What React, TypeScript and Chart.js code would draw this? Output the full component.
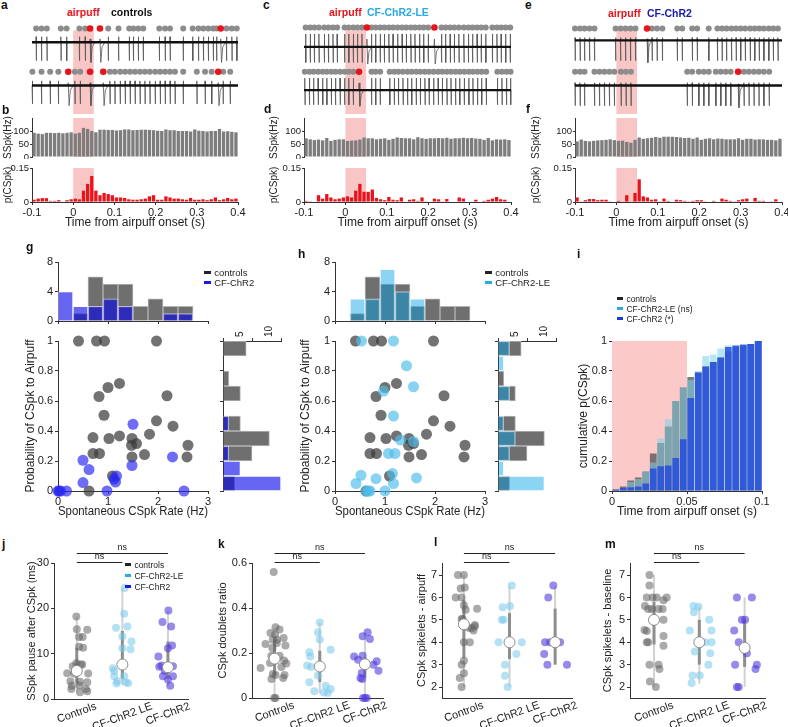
import React, { useEffect, useRef } from 'react';
import { Chart, registerables } from 'chart.js';

Chart.register(...registerables);
const FONT = '"Liberation Sans", Arial, Helvetica, sans-serif';
Chart.defaults.font.family = FONT;
Chart.defaults.font.size = 11;
Chart.defaults.color = '#222';

// ---------------- DATA ----------------
// top row: time histograms (bins of 0.01 s from -0.1 s)
const BIN0 = -0.1;
const BINW = 0.01;
const timeTicks = [-0.1, 0, 0.1, 0.2, 0.3, 0.4];
const ssTicks = [0, 50, 100];
const csTicks = [0, 0.15];

const ssControls = [93, 90, 88, 93, 93, 92, 93, 91, 93, 95, 90, 93, 112, 108, 100, 95, 105, 105, 104, 104, 102, 103, 106, 106, 103, 104, 105, 105, 104, 103, 101, 100, 106, 103, 103, 100, 100, 100, 98, 106, 101, 100, 98, 100, 100, 108, 98, 99, 97, 95];
const ssLE = [72, 68, 65, 67, 64, 73, 62, 66, 68, 68, 62, 63, 64, 67, 75, 72, 72, 68, 70, 72, 66, 70, 75, 73, 72, 72, 68, 76, 72, 70, 72, 72, 73, 72, 74, 70, 72, 72, 74, 72, 73, 71, 70, 66, 73, 64, 68, 67, 68, 65];
const ssChR2 = [60, 67, 62, 60, 62, 64, 65, 66, 68, 65, 62, 63, 58, 55, 66, 75, 70, 72, 74, 77, 74, 78, 78, 78, 77, 75, 73, 74, 70, 75, 66, 70, 72, 68, 71, 70, 68, 68, 68, 72, 66, 70, 70, 67, 68, 68, 66, 66, 64, 70];

const csControls = [0.01, 0.015, 0.017, 0.017, 0.005, 0.005, 0.008, 0.002, 0.008, 0.012, 0.015, 0.012, 0.05, 0.08, 0.115, 0.05, 0.03, 0.04, 0.035, 0.03, 0.02, 0.02, 0.018, 0.012, 0.01, 0.01, 0.012, 0.015, 0.025, 0.03, 0.01, 0.01, 0.025, 0.02, 0.015, 0.015, 0.012, 0.01, 0.018, 0.01, 0.01, 0.012, 0.008, 0.012, 0.02, 0.008, 0.012, 0.018, 0.012, 0.015];
const csLE = [0.005, 0.003, 0, 0.03, 0.015, 0.035, 0.02, 0.012, 0.015, 0.02, 0.025, 0.02, 0.05, 0.08, 0.045, 0.045, 0.055, 0.018, 0.012, 0.008, 0.022, 0.01, 0.008, 0.02, 0.002, 0.01, 0.012, 0.005, 0.02, 0.003, 0, 0.015, 0.012, 0.003, 0.013, 0.002, 0, 0.02, 0.015, 0, 0, 0.01, 0, 0.005, 0.01, 0.015, 0.022, 0.012, 0.01, 0];
const csChR2 = [0.02, 0.003, 0.008, 0.013, 0.013, 0.008, 0.01, 0.01, 0.003, 0, 0.005, 0, 0.03, 0, 0.04, 0.1, 0.025, 0.02, 0.01, 0.012, 0.003, 0.015, 0.005, 0, 0.01, 0.008, 0.005, 0.003, 0.005, 0.008, 0.008, 0.003, 0, 0.005, 0, 0.015, 0.01, 0.005, 0.003, 0.008, 0.012, 0.015, 0, 0.018, 0.005, 0.005, 0, 0.003, 0.012, 0];

// example traces: simple-spike (ss) and complex-spike (cs) times (s)
const trA1ss = [-0.09, -0.077, -0.064, -0.03, -0.016, 0.015, 0.029, 0.085, 0.11, 0.136, 0.146, 0.158, 0.17, 0.209, 0.223, 0.235, 0.267, 0.29, 0.304, 0.316, 0.328, 0.34, 0.348, 0.372, 0.385, 0.397];
const trA1cs = [0.041, 0.065, 0.358];
const trA2ss = [-0.099, -0.077, -0.056, -0.036, 0.004, 0.017, 0.089, 0.101, 0.114, 0.126, 0.138, 0.15, 0.162, 0.174, 0.186, 0.199, 0.211, 0.223, 0.235, 0.247, 0.267, 0.3, 0.32, 0.336, 0.364, 0.381];
const trA2cs = [-0.012, 0.041, 0.073, 0.352];
const trC1ss = [-0.096, -0.085, -0.075, -0.064, -0.051, -0.041, -0.03, -0.02, -0.002, 0.008, 0.019, 0.029, 0.04, 0.063, 0.073, 0.084, 0.094, 0.105, 0.115, 0.126, 0.137, 0.147, 0.158, 0.168, 0.179, 0.189, 0.2, 0.232, 0.242, 0.253, 0.263, 0.274, 0.286, 0.297, 0.307, 0.318, 0.328, 0.339, 0.355, 0.366, 0.376, 0.387, 0.398];
const trC1cs = [0.052, 0.215];
const trC2ss = [-0.098, -0.087, -0.077, -0.066, -0.055, -0.045, -0.034, -0.024, -0.013, -0.002, 0.008, 0.019, 0.063, 0.073, 0.084, 0.107, 0.118, 0.128, 0.139, 0.15, 0.16, 0.171, 0.181, 0.192, 0.202, 0.213, 0.224, 0.234, 0.245, 0.255, 0.266, 0.276, 0.287, 0.298, 0.308, 0.319, 0.329, 0.34, 0.367, 0.378, 0.389, 0.399];
const trC2cs = [0.033];
const trE1ss = [-0.1, -0.088, -0.077, -0.065, -0.053, -0.002, 0.01, 0.022, 0.034, 0.046, 0.086, 0.098, 0.111, 0.147, 0.159, 0.183, 0.195, 0.223, 0.244, 0.255, 0.266, 0.278, 0.289, 0.3, 0.311, 0.323, 0.334, 0.345, 0.356, 0.368, 0.379, 0.39];
const trE1cs = [0.074];
const trE2ss = [-0.1, -0.088, -0.077, -0.053, -0.041, -0.029, -0.017, -0.005, 0.011, 0.023, 0.035, 0.171, 0.183, 0.199, 0.211, 0.223, 0.24, 0.252, 0.264, 0.276, 0.308, 0.32, 0.332, 0.344, 0.356, 0.369];
const trE2cs = [0.294];

// middle row
const rateBins = [0.15, 0.45, 0.75, 1.05, 1.35, 1.65, 1.95, 2.25, 2.55];
const histRateCtrl = [0, 1, 6, 5, 5, 2, 3, 2, 2];
const histRateChR2 = [4, 2, 2, 3, 2, 0, 0, 1, 1];
const histRateLE = [0, 3, 3, 7, 4, 3, 0, 0, 0];
const probBins = [0.05, 0.15, 0.25, 0.35, 0.45, 0.55, 0.65, 0.75, 0.85, 0.95];
const histProbCtrl = [2, 0, 5, 8, 3, 0, 3, 1, 0, 4];
const histProbChR2 = [10, 3, 1, 0, 1, 0, 0, 0, 0, 0];
const histProbLE = [8, 1, 2, 3, 1, 0, 2, 0, 1, 2];
const rateTicks = [0, 1, 2, 3];
const probTicks = [0, 0.2, 0.4, 0.6, 0.8, 1];
const countTicks = [0, 4, 8];
const sideTicks = [0, 5, 10];

const ctrlRate = [0.41, 0.77, 0.93, 1.97, 1.23, 1.0, 0.82, 2.18, 0.92, 1.97, 2.3, 1.83, 0.7, 1.02, 1.23, 1.48, 1.57, 1.47, 2.6, 0.7, 0.83, 1.73, 1.48, 2.58, 1.09, 0.62];
const ctrlProb = [1, 1, 1, 1, 0.717, 0.69, 0.63, 0.635, 0.505, 0.468, 0.432, 0.379, 0.356, 0.35, 0.367, 0.35, 0.316, 0.305, 0.305, 0.25, 0.25, 0.243, 0.227, 0.227, 0.1, 0];
const chr2Rate = [0, 0.02, 0.05, 0.17, 0.98, 2.52, 0.5, 1.15, 1.17, 0.62, 0.5, 1.48, 2.29, 1.5, 1.12];
const chr2Prob = [0, 0, 0, 0, 0, 0, 0.056, 0.06, 0.1, 0.143, 0.205, 0.17, 0.227, 0.445, 0.08];
const leRate = [0.53, 1.17, 1.43, 1.57, 0.97, 1.17, 1.31, 1.57, 1.07, 1.2, 0.52, 1.15, 0.42, 0.82, 1.17, 1.63, 0.67, 1.0, 0.62, 0.7];
const leProb = [1, 1, 0.835, 0.695, 0.666, 0.5, 0.34, 0.33, 0.25, 0.25, 0.105, 0.116, 0.05, 0.082, 0.05, 0.087, 0, 0, 0, 0];

// panel i: cumulative p(CSpk), 5 ms bins
const CUMW = 0.005;
const cumTicksX = [0, 0.05, 0.1];
const cumCtrl = [0.01, 0.03, 0.07, 0.09, 0.13, 0.25, 0.32, 0.43, 0.6, 0.69, 0.76, 0.79, 0.83, 0.86, 0.89, 0.93, 0.96, 0.97, 0.98, 1.0];
const cumLE = [0.01, 0.02, 0.06, 0.08, 0.13, 0.19, 0.35, 0.48, 0.6, 0.69, 0.74, 0.8, 0.9, 0.91, 0.95, 0.97, 0.97, 0.98, 0.98, 1.0];
const cumChR2 = [0.01, 0.02, 0.025, 0.03, 0.05, 0.15, 0.165, 0.17, 0.22, 0.345, 0.62, 0.79, 0.83, 0.86, 0.89, 0.96, 0.97, 0.975, 0.98, 1.0];

// bottom row strip plots (jitter offsets in category units, values)
const groupLabels = ['Controls', 'CF-ChR2 LE', 'CF-ChR2'];
const nsPairs = [[0, 2], [0, 1]];

const jCtrlJit = [-0.01, 0, 0.23, 0.05, 0.13, 0.05, 0.14, -0.09, -0.01, 0.09, 0.12, -0.21, -0.06, 0.25, -0.14, 0.07, 0.23, -0.11, 0.06, -0.12, 0.07, 0.23, 0.2];
const jCtrlVal = [18.2, 15.4, 15.3, 13.7, 13.7, 11.5, 11.3, 7.2, 7.9, 7.6, 7.6, 5.7, 5.6, 5.6, 3.9, 3.8, 3.7, 2.9, 3.0, 2.2, 1.5, 1.7, 2.2];
const jLEJit = [0.05, 0.04, -0.14, 0.11, 0, 0.2, 0, 0.18, -0.21, -0.18, 0.04, -0.11, -0.13, 0.07, 0.13, -0.18];
const jLEVal = [24.5, 18.8, 15.7, 16, 13.8, 12.7, 11.2, 11, 6.8, 5, 5, 3.9, 3.4, 3.7, 3.5, 6.2];
const jChJit = [0.01, -0.12, 0.07, 0.09, 0, -0.21, -0.14, 0.11, -0.11, 0.11, 0, 0.05, -0.19, -0.07];
const jChVal = [19.5, 17, 16, 11.8, 11.2, 9.4, 7.4, 7.2, 5, 5, 4.3, 2.9, 7.1, 6.2];
const jMin = [1.5, 3.2, 2.9], jQ1 = [3.5, 4.5, 4.5], jMed = [6.2, 7.6, 7.0], jQ3 = [11.3, 15, 12.7], jMax = [18.2, 24.5, 19.5];
const jTicks = [0, 10, 20, 30];

const kCtrlJit = [-0.02, 0.02, 0.11, -0.09, 0.01, 0.2, -0.04, 0.05, -0.2, 0.05, -0.05, 0.24, -0.07, 0.11, 0.21, 0.02, 0.26, -0.31, 0.15, -0.1, -0.04, 0.22, 0.02, 0.19, -0.07, -0.01, 0.02];
const kCtrlVal = [0.56, 0.315, 0.304, 0.289, 0.281, 0.267, 0.259, 0.259, 0.24, 0.244, 0.222, 0.233, 0.188, 0.188, 0.167, 0.167, 0.153, 0.133, 0.138, 0.156, 0.107, 0.102, 0.102, 0.089, 0.084, 0, 0];
const kLEJit = [0, -0.04, 0, -0.23, 0.24, -0.21, -0.28, -0.19, -0.04, -0.23, 0.13, 0.24, 0.09, 0.18, -0.12];
const kLEVal = [0.336, 0.292, 0.26, 0.203, 0.215, 0.185, 0.144, 0.138, 0.1, 0.07, 0.055, 0.04, 0.025, 0.022, 0.03];
const kChJit = [0.06, -0.05, 0.11, -0.24, -0.05, -0.15, 0.26, 0.19, 0.3, -0.07, -0.1, -0.06, -0.04, 0.04, 0];
const kChVal = [0.292, 0.274, 0.262, 0.185, 0.188, 0.17, 0.163, 0.148, 0.121, 0.111, 0.089, 0.084, 0, 0, 0];
const kMin = [0, 0.02, 0], kQ1 = [0.1, 0.07, 0.09], kMed = [0.175, 0.14, 0.15], kQ3 = [0.26, 0.21, 0.18], kMax = [0.31, 0.336, 0.29];
const kTicks = [0, 0.2, 0.4, 0.6];

const lCtrlJit = [-0.13, 0, 0.02, -0.07, -0.18, -0.05, 0, 0.04, 0.29, -0.05, -0.03, 0.24, 0.24, 0.1, 0.17, 0.21, 0, 0.13, 0, -0.05, 0, -0.09, -0.05];
const lCtrlVal = [7, 7, 6.45, 6.4, 6, 6, 5.65, 5.45, 5.5, 5.04, 5.03, 4.77, 4.7, 4.65, 4.63, 4.52, 4, 4, 3.17, 3, 2.62, 2.4, 2];
const lLEJit = [-0.15, 0.01, 0.05, -0.17, -0.13, -0.24, 0.27, 0.15, -0.1, -0.1, -0.04, 0];
const lLEVal = [5.56, 5.62, 6.53, 5, 5, 4, 4, 3.48, 3, 2.5, 2, 4];
const lChJit = [-0.04, -0.15, -0.22, -0.11, 0.11, -0.24, -0.17, 0.26];
const lChVal = [6.53, 6, 4, 4, 4, 3.48, 3, 3];
const lMin = [2, 2, 3], lQ1 = [3.3, 3.25, 3.0], lMed = [4.8, 4, 4], lQ3 = [5.9, 5.3, 5.5], lMax = [7, 6.5, 6.5];

const mCtrlJit = [-0.1, -0.1, -0.16, -0.03, 0.06, 0.28, 0.21, -0.2, -0.13, -0.05, 0.1, 0.19, 0.21, -0.21, -0.16, 0.21, -0.16, -0.13, 0.21, -0.1, 0.1, 0.12, -0.09, 0.04];
const mCtrlVal = [7, 6.53, 6, 6, 6, 6, 5.88, 5.62, 5.49, 5.49, 5.49, 5.49, 5, 4.55, 4.5, 4.28, 4, 4, 3.84, 3, 3, 2.8, 2.25, 2];
const mLEJit = [-0.13, -0.02, -0.12, 0.22, -0.21, 0.27, 0.13, 0.27, -0.1, 0.24, 0.2, -0.15, 0.01, -0.17];
const mLEVal = [5.62, 5.59, 5.34, 5, 4.52, 4.52, 4, 4, 3.59, 3.51, 3, 2.52, 2.52, 2.18];
const mChJit = [-0.17, 0.16, -0.06, 0.01, -0.23, -0.13, 0.05, -0.21, 0.27, 0.24, -0.17, -0.13];
const mChVal = [6, 6, 5, 5, 4.52, 4, 3.51, 3, 3, 2.8, 2, 2];
const mMin = [2, 2.15, 2], mQ1 = [3.9, 3, 2.9], mMed = [5, 4, 3.75], mQ3 = [5.8, 5, 5], mMax = [7, 5.6, 6];
const spkTicks = [2, 3, 4, 5, 6, 7];

// ---------------- STYLE ----------------
const RED = '#e8141c';
const PINK = '#f9c6c6';
const AX = '#333';
const GRAY_BAR = '#6f6f6f';
const BLUE_T = 'rgba(0,0,235,0.6)';
const CYAN_T = 'rgba(0,160,230,0.45)';
const PT_CTRL = 'rgba(60,60,60,0.72)';
const PT_CHR2 = 'rgba(40,40,240,0.68)';
const PT_LE = 'rgba(80,190,235,0.68)';
const STRIP_COLORS = ['rgba(100,100,100,0.55)', 'rgba(120,200,235,0.55)', 'rgba(80,60,220,0.6)'];

// ---------------- PLUGINS ----------------
const shadePlugin = {
  id: 'shade',
  beforeDatasetsDraw(chart: any, _a: any, o: any) {
    if (!o || o.x0 === undefined) return;
    const { ctx, chartArea: ca, scales } = chart;
    const x0 = scales.x.getPixelForValue(o.x0);
    const x1 = scales.x.getPixelForValue(o.x1);
    const yb = o.y0 === undefined ? ca.bottom : scales.y.getPixelForValue(o.y0);
    const yt = o.y1 === undefined ? ca.top : scales.y.getPixelForValue(o.y1);
    ctx.save();
    ctx.fillStyle = o.color || PINK;
    ctx.fillRect(x0, yt, x1 - x0, yb - yt);
    ctx.restore();
  },
};

const stripPlugin = {
  id: 'strip',
  afterDraw(chart: any, _a: any, o: any) {
    if (!o || !o.labels) return;
    const { ctx, chartArea: ca, scales } = chart;
    const x = scales.x;
    ctx.save();
    ctx.fillStyle = '#222';
    ctx.strokeStyle = '#222';
    ctx.lineWidth = 1;
    ctx.font = `11px ${FONT}`;
    const ang = (20 * Math.PI) / 180;
    o.labels.forEach((lab: string, i: number) => {
      const w = ctx.measureText(lab).width;
      const px = x.getPixelForValue(i);
      const py = ca.bottom + 7 + (w / 2) * Math.sin(ang);
      ctx.save();
      ctx.translate(px, py);
      ctx.rotate(-ang);
      ctx.textAlign = 'center';
      ctx.textBaseline = 'middle';
      ctx.fillText(lab, 0, 0);
      ctx.restore();
    });
    ctx.font = `9px ${FONT}`;
    ctx.textAlign = 'center';
    ctx.textBaseline = 'bottom';
    const offs = [10, 1];
    o.ns.forEach((p: number[], k: number) => {
      const x0 = x.getPixelForValue(p[0]);
      const x1 = x.getPixelForValue(p[1]);
      const y = Math.round(ca.top - offs[k]) + 0.5;
      ctx.beginPath();
      ctx.moveTo(x0, y);
      ctx.lineTo(x1, y);
      ctx.stroke();
      ctx.fillText('ns', (x0 + x1) / 2, y - 1);
    });
    ctx.restore();
  },
};
Chart.register(shadePlugin as any, stripPlugin as any);

// ---------------- HELPERS ----------------
type Rect = { l: number; t: number; r: number; b: number };
type M = { l: number; t: number; r: number; b: number };

function baseOpts(m: M, left: boolean, bottom: boolean, top = false) {
  return {
    responsive: false,
    animation: false,
    devicePixelRatio: 1,
    events: [],
    layout: { padding: { left: left ? 0 : m.l, right: m.r, top: top ? 0 : m.t, bottom: bottom ? 0 : m.b } },
  };
}
const quiet = { legend: { display: false }, tooltip: { enabled: false } };

function titleOpt(text: string, size: number) {
  return { display: !!text, text, font: { size, lineHeight: 1.2 }, padding: { top: 0, bottom: 0 }, color: '#222' };
}

function axY(min: number, max: number, ticks: number[], w: number, title = '', fs = 11, ts = 12, labels = true, tl = 3) {
  return {
    type: 'linear', position: 'left', min, max, offset: false,
    afterFit: (s: any) => { s.width = w; s.paddingTop = 0; s.paddingBottom = 0; },
    afterBuildTicks: (s: any) => { s.ticks = ticks.map((v) => ({ value: v })); },
    ticks: { display: labels, callback: (v: any) => String(v), padding: tl < 3 ? 1 : 2, font: { size: fs }, color: '#222', autoSkip: false },
    grid: { display: true, offset: false, drawOnChartArea: false, drawTicks: true, tickLength: tl, color: AX, lineWidth: 1 },
    border: { display: true, color: AX, width: 1 },
    title: titleOpt(title, ts),
  };
}

function axX(min: number, max: number, ticks: number[], h: number, title = '', fs = 11, ts = 12, labels = true, position = 'bottom', rot = 0) {
  return {
    type: 'linear', position, min, max, offset: false,
    afterFit: (s: any) => { s.height = h; s.paddingLeft = 0; s.paddingRight = 0; },
    afterBuildTicks: (s: any) => { s.ticks = ticks.map((v) => ({ value: v })); },
    ticks: { display: labels, callback: (v: any) => String(v), padding: 1, font: { size: fs }, color: '#222', minRotation: rot, maxRotation: rot, autoSkip: false },
    grid: { display: ticks.length > 0, offset: false, drawOnChartArea: false, drawTicks: true, tickLength: 3, color: AX, lineWidth: 1 },
    border: { display: true, color: AX, width: 1 },
    title: titleOpt(title, ts),
  };
}

function ChartBox({ rect, m, make }: { rect: Rect; m: M; make: () => any }) {
  const ref = useRef<HTMLCanvasElement>(null);
  const w = rect.r - rect.l + m.l + m.r;
  const h = rect.b - rect.t + m.t + m.b;
  useEffect(() => {
    const c = new Chart(ref.current as HTMLCanvasElement, make());
    return () => c.destroy();
  }, []);
  return (
    <canvas
      ref={ref}
      width={w}
      height={h}
      style={{ position: 'absolute', left: rect.l - m.l, top: rect.t - m.t, width: w, height: h }}
    />
  );
}

function buildTrace(ss: number[], cs: number[], base: number, up: number, down: number) {
  const ev = [...ss.map((t) => ({ t, c: false })), ...cs.map((t) => ({ t, c: true }))].sort((a, b) => a.t - b.t);
  const pts: { x: number; y: number }[] = [{ x: -0.1, y: base }];
  ev.forEach((e) => {
    if (e.c) {
      pts.push({ x: e.t - 0.001, y: base }, { x: e.t, y: base + up * 0.6 }, { x: e.t + 0.002, y: base - down * 1.1 }, { x: e.t + 0.005, y: base - 5 }, { x: e.t + 0.012, y: base });
    } else {
      pts.push({ x: e.t - 0.0004, y: base }, { x: e.t, y: base + up }, { x: e.t + 0.0005, y: base - down }, { x: e.t + 0.001, y: base });
    }
  });
  pts.push({ x: 0.4, y: base });
  return pts;
}

type TraceRow = { ss: number[]; cs: number[]; dotY: number; base: number; up: number; down: number };

function traceCfg(rows: TraceRow[], m: M) {
  const datasets: any[] = [];
  rows.forEach((r) => {
    datasets.push({ data: buildTrace(r.ss, r.cs, r.base, r.up, r.down), showLine: true, borderColor: '#555', borderWidth: 0.8, pointRadius: 0, clip: false, order: 4 });
    datasets.push({ data: [{ x: -0.1, y: r.base }, { x: 0.4, y: r.base }], showLine: true, borderColor: '#111', borderWidth: 2.4, pointRadius: 0, order: 3 });
    datasets.push({ data: r.ss.map((t) => ({ x: t, y: r.dotY })), pointRadius: 3, backgroundColor: '#8c8c8c', borderWidth: 0, clip: false, order: 2 });
    datasets.push({ data: r.cs.map((t) => ({ x: t, y: r.dotY })), pointRadius: 3.3, backgroundColor: RED, borderWidth: 0, clip: false, order: 1 });
  });
  return {
    type: 'scatter',
    data: { datasets },
    options: {
      ...baseOpts(m, false, false),
      scales: { x: { type: 'linear', min: -0.1, max: 0.4, display: false }, y: { type: 'linear', min: 0, max: 100, display: false } },
      plugins: { ...quiet, shade: { x0: 0, x1: 0.05, y0: 0, y1: 91, color: PINK } },
    },
  };
}

const timeBars = (vals: number[]) => vals.map((v, i) => ({ x: BIN0 + BINW * (i + 0.5), y: v }));

function ssCfg(vals: number[], m: M) {
  return {
    type: 'bar',
    data: { datasets: [{ data: timeBars(vals), backgroundColor: '#7d7d7d', borderWidth: 0, barPercentage: 0.8, categoryPercentage: 1 }] },
    options: {
      ...baseOpts(m, true, false),
      scales: { x: { type: 'linear', min: -0.1, max: 0.4, offset: false, display: false }, y: axY(0, 150, ssTicks, m.l, 'SSpk(Hz)', 9.5, 10, true, 2) },
      plugins: { ...quiet, shade: { x0: 0, x1: 0.05, color: PINK } },
    },
  };
}

function csCfg(vals: number[], m: M) {
  return {
    type: 'bar',
    data: { datasets: [{ data: timeBars(vals), backgroundColor: RED, borderWidth: 0, barPercentage: 0.8, categoryPercentage: 1 }] },
    options: {
      ...baseOpts(m, true, true),
      scales: { x: axX(-0.1, 0.4, timeTicks, m.b, 'Time from airpuff onset (s)', 11, 12), y: axY(0, 0.15, csTicks, m.l, 'p(CSpk)', 9.5, 10, true, 2) },
      plugins: { ...quiet, shade: { x0: 0, x1: 0.05, color: PINK } },
    },
  };
}

function topHistCfg(ctrl: number[], other: number[], otherColor: string, m: M) {
  return {
    type: 'bar',
    data: {
      datasets: [
        { data: other.map((v, i) => ({ x: rateBins[i], y: v })), backgroundColor: otherColor, borderColor: 'rgba(255,255,255,0.55)', borderWidth: 1, barPercentage: 1, categoryPercentage: 1, grouped: false, order: 0 },
        { data: ctrl.map((v, i) => ({ x: rateBins[i], y: v })), backgroundColor: GRAY_BAR, borderColor: '#b4b4b4', borderWidth: 1, barPercentage: 1, categoryPercentage: 1, grouped: false, order: 1 },
      ],
    },
    options: {
      ...baseOpts(m, true, true),
      scales: { x: axX(0, 3, rateTicks, m.b, '', 11, 12, false), y: axY(0, 8, countTicks, m.l, '', 11) },
      plugins: quiet,
    },
  };
}

function sideHistCfg(ctrl: number[], other: number[], otherColor: string, m: M) {
  return {
    type: 'bar',
    data: {
      datasets: [
        { data: other.map((v, i) => ({ x: v, y: probBins[i] })), backgroundColor: otherColor, borderColor: 'rgba(255,255,255,0.55)', borderWidth: 1, barPercentage: 1, categoryPercentage: 1, grouped: false, order: 0 },
        { data: ctrl.map((v, i) => ({ x: v, y: probBins[i] })), backgroundColor: GRAY_BAR, borderColor: '#b4b4b4', borderWidth: 1, barPercentage: 1, categoryPercentage: 1, grouped: false, order: 1 },
      ],
    },
    options: {
      ...baseOpts(m, true, false, true),
      indexAxis: 'y',
      scales: { x: axX(0, 10, sideTicks, m.t, '', 10, 12, true, 'top', 90), y: axY(0, 1, probTicks, m.l, '', 11, 12, false) },
      plugins: quiet,
    },
  };
}

function scatterCfg(other: { r: number[]; p: number[]; c: string }, m: M) {
  return {
    type: 'scatter',
    data: {
      datasets: [
        { data: other.r.map((r, i) => ({ x: r, y: other.p[i] })), pointRadius: 5.5, backgroundColor: other.c, borderWidth: 0, clip: false, order: 0 },
        { data: ctrlRate.map((r, i) => ({ x: r, y: ctrlProb[i] })), pointRadius: 5.5, backgroundColor: PT_CTRL, borderWidth: 0, clip: false, order: 1 },
      ],
    },
    options: {
      ...baseOpts(m, true, true),
      scales: { x: axX(0, 3, rateTicks, m.b, 'Spontaneous CSpk Rate (Hz)', 11, 12), y: axY(0, 1, probTicks, m.l, 'Probability of CSpk to Airpuff', 11, 12) },
      plugins: quiet,
    },
  };
}

function cumCfg(m: M) {
  const bars = (vals: number[]) => vals.map((v, i) => ({ x: CUMW * (i + 0.5), y: v }));
  const ds = (vals: number[], color: string, order: number) => ({ data: bars(vals), backgroundColor: color, borderWidth: 0, barPercentage: 0.9, categoryPercentage: 1, grouped: false, order });
  return {
    type: 'bar',
    data: {
      datasets: [
        ds(cumCtrl, 'rgba(80,80,80,0.75)', 2),
        ds(cumLE, 'rgba(120,210,235,0.55)', 1),
        ds(cumChR2, 'rgba(30,70,225,0.8)', 0),
      ],
    },
    options: {
      ...baseOpts(m, true, true),
      scales: { x: axX(0, 0.1, cumTicksX, m.b, 'Time from airpuff onset (s)', 11, 12), y: axY(0, 1, probTicks, m.l, 'cumulative p(CSpk)', 11, 12) },
      plugins: { ...quiet, shade: { x0: 0, x1: 0.05, color: '#fcc9c9' } },
    },
  };
}

type Strip = {
  jit: number[][]; val: number[][];
  min: number[]; q1: number[]; med: number[]; q3: number[]; max: number[];
  xMin: number; xMax: number; yMin: number; yMax: number; ticks: number[]; title: string;
};

function stripCfg(p: Strip, m: M) {
  const ds: any[] = [];
  p.val.forEach((vals, i) => {
    ds.push({ data: [{ x: i, y: p.min[i] }, { x: i, y: p.max[i] }], showLine: true, borderColor: '#d2d2d2', borderWidth: 2, pointRadius: 0, order: 5 });
    ds.push({ data: [{ x: i, y: p.q1[i] }, { x: i, y: p.q3[i] }], showLine: true, borderColor: '#8e8e8e', borderWidth: 3, pointRadius: 0, order: 4 });
    ds.push({ data: vals.map((v, k) => ({ x: i + p.jit[i][k], y: v })), pointRadius: 4, backgroundColor: STRIP_COLORS[i], borderWidth: 0, clip: false, order: 3 });
  });
  ds.push({ data: p.med.map((v, i) => ({ x: i, y: v })), pointRadius: 5.5, backgroundColor: '#fff', borderColor: '#8a8a8a', borderWidth: 1, clip: false, order: 0 });
  const xs: any = axX(p.xMin, p.xMax, [], m.b, '', 11, 11, false);
  return {
    type: 'scatter',
    data: { datasets: ds },
    options: {
      ...baseOpts(m, true, true),
      scales: { x: xs, y: axY(p.yMin, p.yMax, p.ticks, m.l, p.title, 11, 11) },
      plugins: { ...quiet, strip: { labels: groupLabels, ns: nsPairs } },
    },
  };
}

// ---------------- HTML TEXT ----------------
function Txt({ x, y, size, bold, color, children }: any) {
  return (
    <div style={{ position: 'absolute', left: x, top: y - size * 0.6, fontSize: size, lineHeight: 1.2, fontFamily: FONT, fontWeight: bold ? 700 : 400, color: color || '#111', whiteSpace: 'nowrap' }}>
      {children}
    </div>
  );
}

function Legend({ x, y, dy, size, items }: any) {
  return (
    <>
      {items.map((it: any, i: number) => (
        <div key={i} style={{ position: 'absolute', left: x, top: y + i * dy - size * 0.6, height: size * 1.2, display: 'flex', alignItems: 'center', fontSize: size, fontFamily: FONT, color: '#222', whiteSpace: 'nowrap', lineHeight: 1.2 }}>
          <span style={{ display: 'inline-block', width: size * 0.75, height: 3, background: it.color, marginRight: 3 }} />
          {it.label}
        </div>
      ))}
    </>
  );
}

// ---------------- LAYOUT ----------------
const cols = [
  { l: 32, r: 238, ml: 30, rows: [
    { ss: trA1ss, cs: trA1cs, dotY: 93, base: 78, up: 6, down: 20 },
    { ss: trA2ss, cs: trA2cs, dotY: 46, base: 31, up: 5, down: 20 },
  ], ss: ssControls, cs: csControls },
  { l: 304, r: 511, ml: 36, rows: [
    { ss: trC1ss, cs: trC1cs, dotY: 94, base: 73, up: 14, down: 17 },
    { ss: trC2ss, cs: trC2cs, dotY: 46, base: 26, up: 13, down: 16 },
  ], ss: ssLE, cs: csLE },
  { l: 575, r: 782, ml: 45, rows: [
    { ss: trE1ss, cs: trE1cs, dotY: 93, base: 80, up: 3, down: 22 },
    { ss: trE2ss, cs: trE2cs, dotY: 46, base: 31, up: 3, down: 22 },
  ], ss: ssChR2, cs: csChR2 },
];

const strips: { rect: Rect; ml: number; p: Strip }[] = [
  { rect: { l: 54, t: 563, r: 188, b: 699 }, ml: 29, p: { jit: [jCtrlJit, jLEJit, jChJit], val: [jCtrlVal, jLEVal, jChVal], min: jMin, q1: jQ1, med: jMed, q3: jQ3, max: jMax, xMin: -0.5, xMax: 2.44, yMin: 0, yMax: 30, ticks: jTicks, title: 'SSpk pause after CSpk (ms)' } },
  { rect: { l: 252, t: 563, r: 383, b: 698 }, ml: 36, p: { jit: [kCtrlJit, kLEJit, kChJit], val: [kCtrlVal, kLEVal, kChVal], min: kMin, q1: kQ1, med: kMed, q3: kQ3, max: kMax, xMin: -0.5, xMax: 2.4, yMin: 0, yMax: 0.6, ticks: kTicks, title: 'CSpk doublets ratio' } },
  { rect: { l: 442, t: 563, r: 572, b: 698 }, ml: 27, p: { jit: [lCtrlJit, lLEJit, lChJit], val: [lCtrlVal, lLEVal, lChVal], min: lMin, q1: lQ1, med: lMed, q3: lQ3, max: lMax, xMin: -0.48, xMax: 2.37, yMin: 1.51, yMax: 7.54, ticks: spkTicks, title: 'CSpk spikelets - airpuff' } },
  { rect: { l: 630, t: 563, r: 765, b: 698 }, ml: 29, p: { jit: [mCtrlJit, mLEJit, mChJit], val: [mCtrlVal, mLEVal, mChVal], min: mMin, q1: mQ1, med: mMed, q3: mQ3, max: mMax, xMin: -0.53, xMax: 2.45, yMin: 1.51, yMax: 7.54, ticks: spkTicks, title: 'CSpk spikelets - baseline' } },
];

export default function App() {
  const topHistM: M = { l: 30, t: 8, r: 6, b: 3 };
  return (
    <div style={{ position: 'fixed', left: 0, top: 0, width: 788, height: 727, overflow: 'hidden', background: '#fff' }}>
      {cols.map((c, i) => (
        <React.Fragment key={i}>
          <ChartBox rect={{ l: c.l, t: 18, r: c.r, b: 118 }} m={{ l: 6, t: 0, r: 6, b: 0 }} make={() => traceCfg(c.rows, { l: 6, t: 0, r: 6, b: 0 })} />
          <ChartBox rect={{ l: c.l, t: 118, r: c.r, b: 157 }} m={{ l: c.ml, t: 6, r: 6, b: 2 }} make={() => ssCfg(c.ss, { l: c.ml, t: 6, r: 6, b: 2 })} />
          <ChartBox rect={{ l: c.l, t: 168, r: c.r, b: 202 }} m={{ l: c.ml, t: 6, r: 10, b: 28 }} make={() => csCfg(c.cs, { l: c.ml, t: 6, r: 10, b: 28 })} />
        </React.Fragment>
      ))}

      <ChartBox rect={{ l: 58, t: 262, r: 208, b: 321 }} m={topHistM} make={() => topHistCfg(histRateCtrl, histRateChR2, BLUE_T, topHistM)} />
      <ChartBox rect={{ l: 58, t: 341, r: 208, b: 491 }} m={{ l: 35, t: 8, r: 8, b: 28 }} make={() => scatterCfg({ r: chr2Rate, p: chr2Prob, c: PT_CHR2 }, { l: 35, t: 8, r: 8, b: 28 })} />
      <ChartBox rect={{ l: 223, t: 341, r: 281, b: 491 }} m={{ l: 4, t: 16, r: 6, b: 4 }} make={() => sideHistCfg(histProbCtrl, histProbChR2, BLUE_T, { l: 4, t: 16, r: 6, b: 4 })} />

      <ChartBox rect={{ l: 335, t: 262, r: 485, b: 321 }} m={topHistM} make={() => topHistCfg(histRateCtrl, histRateLE, CYAN_T, topHistM)} />
      <ChartBox rect={{ l: 335, t: 341, r: 485, b: 491 }} m={{ l: 37, t: 8, r: 8, b: 28 }} make={() => scatterCfg({ r: leRate, p: leProb, c: PT_LE }, { l: 37, t: 8, r: 8, b: 28 })} />
      <ChartBox rect={{ l: 498, t: 341, r: 556, b: 491 }} m={{ l: 4, t: 16, r: 6, b: 4 }} make={() => sideHistCfg(histProbCtrl, histProbLE, CYAN_T, { l: 4, t: 16, r: 6, b: 4 })} />

      <ChartBox rect={{ l: 612, t: 341, r: 762, b: 491 }} m={{ l: 36, t: 8, r: 12, b: 28 }} make={() => cumCfg({ l: 36, t: 8, r: 12, b: 28 })} />

      {strips.map((s, i) => (
        <ChartBox key={'s' + i} rect={s.rect} m={{ l: s.ml, t: 25, r: 10, b: 30 }} make={() => stripCfg(s.p, { l: s.ml, t: 25, r: 10, b: 30 })} />
      ))}

      {/* panel letters */}
      <Txt x={1} y={5} size={12} bold>a</Txt>
      <Txt x={2} y={110} size={12} bold>b</Txt>
      <Txt x={263} y={5} size={12} bold>c</Txt>
      <Txt x={264} y={109} size={12} bold>d</Txt>
      <Txt x={525} y={5} size={12} bold>e</Txt>
      <Txt x={526} y={109} size={12} bold>f</Txt>
      <Txt x={26} y={247} size={12} bold>g</Txt>
      <Txt x={298} y={254} size={12} bold>h</Txt>
      <Txt x={577} y={254} size={12} bold>i</Txt>
      <Txt x={2} y={544} size={12} bold>j</Txt>
      <Txt x={218} y={544} size={12} bold>k</Txt>
      <Txt x={434} y={542} size={12} bold>l</Txt>
      <Txt x={605} y={544} size={12} bold>m</Txt>

      {/* top titles */}
      <Txt x={67} y={12} size={10.5} bold color={RED}>airpuff</Txt>
      <Txt x={111} y={12} size={10.5} bold color="#111">controls</Txt>
      <Txt x={329} y={12} size={10.5} bold color={RED}>airpuff</Txt>
      <Txt x={367} y={12} size={10.5} bold color="#29abe2">CF-ChR2-LE</Txt>
      <Txt x={608} y={13} size={10.5} bold color={RED}>airpuff</Txt>
      <Txt x={647} y={13} size={10.5} bold color="#1a1aa8">CF-ChR2</Txt>

      {/* legends */}
      <Legend x={204} y={273} dy={9.5} size={9.5} items={[{ label: 'controls', color: '#222' }, { label: 'CF-ChR2', color: '#1a1ae0' }]} />
      <Legend x={485} y={273} dy={9.5} size={9.5} items={[{ label: 'controls', color: '#222' }, { label: 'CF-ChR2-LE', color: '#29abe2' }]} />
      <Legend x={617} y={299} dy={10} size={8.5} items={[{ label: 'controls', color: '#222' }, { label: 'CF-ChR2-LE (ns)', color: '#29abe2' }, { label: 'CF-ChR2 (*)', color: '#1a3ad6' }]} />
      <Legend x={125} y={565} dy={11} size={8.5} items={[{ label: 'controls', color: '#222' }, { label: 'CF-ChR2-LE', color: '#29abe2' }, { label: 'CF-ChR2', color: '#1a1ae0' }]} />
    </div>
  );
}
